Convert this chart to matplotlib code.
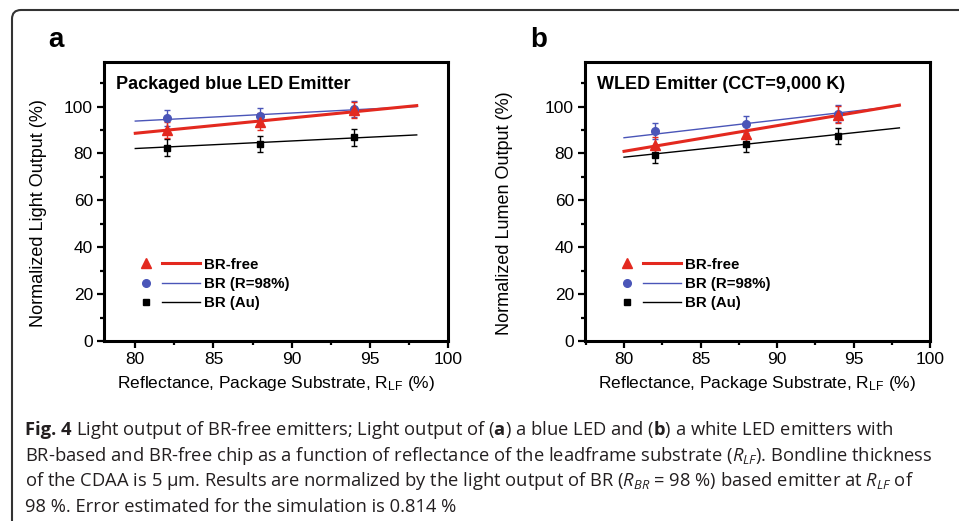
import matplotlib
matplotlib.use("Agg")
import matplotlib.pyplot as plt
from matplotlib.lines import Line2D
from matplotlib.legend_handler import HandlerTuple
from matplotlib.patches import FancyBboxPatch
from matplotlib.ticker import MultipleLocator

plt.rcParams['font.family'] = ['Liberation Sans', 'DejaVu Sans']
plt.rcParams['mathtext.fontset'] = 'custom'
plt.rcParams['mathtext.rm'] = 'Open Sans'
plt.rcParams['mathtext.it'] = 'Open Sans:italic'
plt.rcParams['mathtext.bf'] = 'Open Sans:bold'
plt.rcParams['mathtext.sf'] = 'Liberation Sans'

# reflectance of leadframe substrate (%)
rlf = [82, 88, 94]
fit_x = [80, 98]
err = [3.5, 3.5, 3.5]

# panel a - packaged blue LED
a_free = [90.0, 93.6, 98.6]
a_br98 = [95.0, 96.0, 98.9]
a_au = [82.5, 84.1, 86.8]
a_free_fit = [88.6, 100.4]
a_br98_fit = [93.8, 100.0]
a_au_fit = [82.1, 87.9]

# panel b - WLED
b_free = [83.6, 88.5, 96.6]
b_br98 = [89.6, 92.4, 97.0]
b_au = [79.3, 84.0, 87.4]
b_free_fit = [80.9, 100.6]
b_br98_fit = [86.7, 100.3]
b_au_fit = [78.4, 90.9]

labels = ['BR-free', 'BR (R=98%)', 'BR (Au)']
RED = '#e3291f'
BLUE = '#4a55b8'
BLACK = '#000000'

W, H = 959, 521
fig = plt.figure(figsize=(W / 100, H / 100), dpi=100)


def draw_panel(ax, free, br98, au, fits, title, ylabel, ylab_x):
    styles = [(au, fits[2], BLACK, 's', 4.5, 1.0),
              (br98, fits[1], BLUE, 'o', 5.5, 1.0),
              (free, fits[0], RED, '^', 6.5, 2.2)]
    for vals, fit, c, m, ms, lw in styles:
        ax.plot(fit_x, fit, color=c, lw=lw, zorder=2)
        ax.errorbar(rlf, vals, yerr=err, fmt=m, color=c, ms=ms, elinewidth=1.0,
                    capsize=2.5, capthick=1.0, zorder=3)

    ax.set_ylim(0, 119)
    ax.set_xticks([80, 85, 90, 95, 100])
    ax.set_yticks([0, 20, 40, 60, 80, 100])
    ax.xaxis.set_minor_locator(MultipleLocator(2.5))
    ax.yaxis.set_minor_locator(MultipleLocator(10))
    ax.tick_params(which='major', direction='out', length=5, width=1.6,
                   labelsize=12.5, pad=3)
    ax.tick_params(which='minor', direction='out', length=3, width=1.6)
    for s in ax.spines.values():
        s.set_linewidth(2.2)

    ax.set_ylabel(ylabel, fontsize=13)
    ax.yaxis.set_label_coords(ylab_x, 0.458)
    ax.set_xlabel(r'Reflectance, Package Substrate, $\mathsf{R_{LF}}$ (%)',
                  fontsize=12.5, labelpad=5)
    ax.text(0.036, 0.903, title, transform=ax.transAxes, fontsize=13,
            fontweight='bold', va='baseline', ha='left')

    handles = [
        (Line2D([], [], ls='none', marker='^', color=RED, ms=6.5),
         Line2D([], [], color=RED, lw=2.2)),
        (Line2D([], [], ls='none', marker='o', color=BLUE, ms=5.5),
         Line2D([], [], color=BLUE, lw=1.0)),
        (Line2D([], [], ls='none', marker='s', color=BLACK, ms=4.5),
         Line2D([], [], color=BLACK, lw=1.0)),
    ]
    ax.legend(handles, labels, handler_map={tuple: HandlerTuple(ndivide=None, pad=-0.2)},
              loc='center left', bbox_to_anchor=(0.066, 0.204), frameon=False,
              borderpad=0, borderaxespad=0, handlelength=4.87, handletextpad=0.27,
              labelspacing=0.36, prop={'weight': 'bold', 'size': 10.8})


ax_a = fig.add_axes([104 / W, 1 - 341 / H, 344 / W, 279 / H])
draw_panel(ax_a, a_free, a_br98, a_au, [a_free_fit, a_br98_fit, a_au_fit],
           'Packaged blue LED Emitter', 'Normalized Light Output (%)', -0.166)
ax_a.set_xlim(78, 100)

ax_b = fig.add_axes([585 / W, 1 - 341 / H, 345 / W, 279 / H])
draw_panel(ax_b, b_free, b_br98, b_au, [b_free_fit, b_br98_fit, b_au_fit],
           'WLED Emitter (CCT=9,000 K)', 'Normalized Lumen Output (%)', -0.209)
ax_b.set_xlim(77.45, 100)

fig.text(48 / W, 1 - 47 / H, 'a', fontsize=20, fontweight='bold', va='baseline')
fig.text(530 / W, 1 - 47 / H, 'b', fontsize=20, fontweight='bold', va='baseline')

# rounded frame around the figure
frame = FancyBboxPatch((12, -30), 1000, H - 10 + 30,
                       boxstyle='round,pad=0,rounding_size=9',
                       transform=None, fill=False, edgecolor='#333333', lw=1.5)
fig.patches.append(frame)

# caption
cap_kw = dict(fontsize=13.2, family='Open Sans', color='#231f20')
figno = fig.text(25 / W, 1 - 435 / H, 'Fig. 4', fontweight='bold',
                 va='baseline', ha='left', **cap_kw)
bb = figno.get_window_extent(fig.canvas.get_renderer())
fig.text((bb.x1 + 4.5) / W, 1 - 435 / H,
         r'Light output of BR-free emitters; Light output of ($\mathbf{a}$) a blue LED and ($\mathbf{b}$) a white LED emitters with',
         va='baseline', ha='left', **cap_kw)

cap_lines = [
    r'BR-based and BR-free chip as a function of reflectance of the leadframe substrate ($R_{LF}$). Bondline thickness',
    r'of the CDAA is 5 µm. Results are normalized by the light output of BR ($R_{BR}$ = 98 %) based emitter at $R_{LF}$ of',
    r'98 %. Error estimated for the simulation is 0.814 %',
]
cap_base = [461, 486, 512]
for line, yb in zip(cap_lines, cap_base):
    fig.text(25 / W, 1 - yb / H, line, va='baseline', ha='left', **cap_kw)

fig.savefig('out.png', dpi=100)
